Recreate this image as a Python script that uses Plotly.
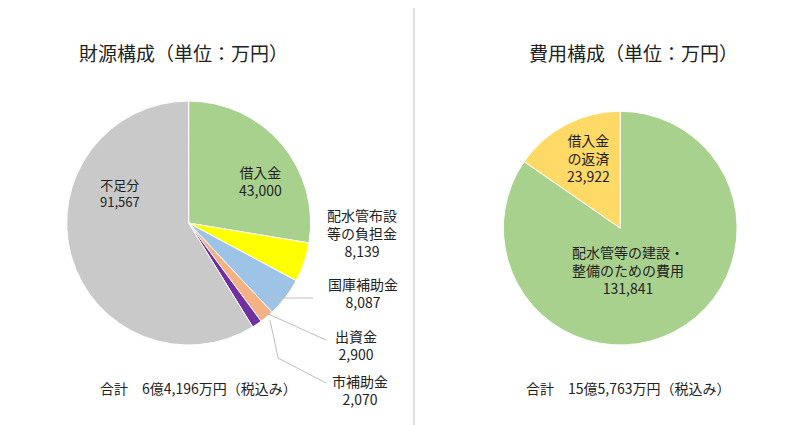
import plotly.graph_objects as go

left_labels = ["借入金", "配水管布設等の負担金", "国庫補助金", "出資金", "市補助金", "不足分"]
left_values = [43000, 8139, 8087, 2900, 2070, 91567]
left_colors = ["#a9d18e", "#ffff00", "#9dc3e6", "#f4b183", "#7030a0", "#c9c9c9"]
right_labels = ["配水管等の建設・整備のための費用", "借入金の返済"]
right_values = [131841, 23922]
right_colors = ["#a9d18e", "#ffd966"]

F = "Noto Sans CJK JP"
fig = go.Figure()
fig.add_trace(go.Pie(labels=left_labels, values=left_values, sort=False, direction="clockwise",
                     rotation=0, marker=dict(colors=left_colors, line=dict(color="white", width=1)),
                     textinfo="none", hoverinfo="label+value",
                     domain=dict(x=[0.072, 0.373], y=[0.207, 0.781])))
fig.add_trace(go.Pie(labels=right_labels, values=right_values, sort=False, direction="clockwise",
                     rotation=0, marker=dict(colors=right_colors, line=dict(color="white", width=1)),
                     textinfo="none", hoverinfo="label+value",
                     domain=dict(x=[0.61, 0.898], y=[0.207, 0.757])))

def px(x, y):
    return x / 812, 1 - y / 425

ann = [
    ("財源構成（単位：万円）", 175, 45, 19),
    ("費用構成（単位：万円）", 625, 45, 19),
    ("借入金<br>43,000", 253, 173, 14),
    ("配水管布設<br>等の負担金<br>8,139", 354, 225, 14),
    ("国庫補助金<br>8,087", 355, 285, 14),
    ("出資金<br>2,900", 348, 337, 14),
    ("市補助金<br>2,070", 352, 382, 14),
    ("不足分<br>91,567", 112, 185, 13),
    ("合計　6億4,196万円（税込み）", 190, 380, 14),
    ("借入金<br>の返済<br>23,922", 580, 150, 14),
    ("配水管等の建設・<br>整備のための費用<br>131,841", 620, 262, 14),
    ("合計　15億5,763万円（税込み）", 620, 380, 14),
]
for t, x, y, s in ann:
    ax, ay = px(x, y)
    fig.add_annotation(x=ax, y=ay, xref="paper", yref="paper", text=t, showarrow=False,
                       xanchor="center", yanchor="middle",
                       font=dict(size=s, color="#222", family=F), align="center")

lines = [(406, 0, 406, 425), (258, 305, 318, 332), (262, 312, 270, 350), (270, 350, 318, 375), (258, 290, 305, 290)]
for x0, y0, x1, y1 in lines:
    a0, b0 = px(x0, y0); a1, b1 = px(x1, y1)
    fig.add_shape(type="line", xref="paper", yref="paper", x0=a0, y0=b0, x1=a1, y1=b1,
                  line=dict(color="#bfbfbf", width=1))

fig.update_layout(width=812, height=425, margin=dict(l=0, r=0, t=0, b=0), showlegend=False,
                  paper_bgcolor="white", font=dict(family=F))
fig.write_html("out.html")
